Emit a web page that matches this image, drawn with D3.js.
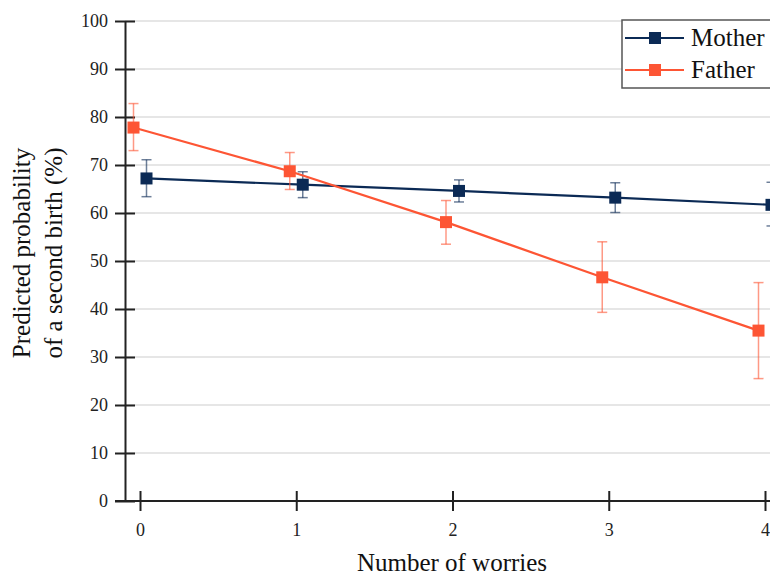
<!DOCTYPE html>
<html>
<head>
<meta charset="utf-8">
<script src="https://cdn.jsdelivr.net/npm/d3@7"></script>
<style>
  body { margin: 0; background: #fff; }
  svg { display: block; font-family: "Liberation Serif", "Times New Roman", serif; }
  .tick text { font-family: "Liberation Serif", serif; font-size: 18px; fill: #222; }
</style>
</head>
<body>
<div id="chart"></div>
<script>
// data
var worries = [0, 1, 2, 3, 4]
var yTicks = [0, 10, 20, 30, 40, 50, 60, 70, 80, 90, 100]

var motherMean = [67.2, 65.9, 64.6, 63.2, 61.7]
var motherLow = [63.4, 63.2, 62.3, 60.1, 57.3]
var motherHigh = [71.1, 68.6, 66.9, 66.3, 66.4]

var fatherMean = [77.8, 68.7, 58.1, 46.6, 35.5]
var fatherLow = [73.0, 64.9, 53.5, 39.3, 25.5]
var fatherHigh = [82.8, 72.6, 62.6, 54.0, 45.5]

var width = 770
var height = 576
var mother_col = "#0b2a55"
var father_col = "#fd5534"
var marker = 12
var dodge = 6.5  // horizontal offset so the two series don't overlap

var x = d3.scaleLinear().domain([0, 4]).range([140, 765])
var y = d3.scaleLinear().domain([0, 100]).range([501, 21])

var svg = d3.select("#chart").append("svg")
    .attr("width", width)
    .attr("height", height)

// gridlines
svg.append("g").selectAll("line")
    .data(yTicks.filter(function(d){ return d > 0 }))
    .enter().append("line")
    .attr("x1", 125).attr("x2", width)
    .attr("y1", function(d){ return y(d) }).attr("y2", function(d){ return y(d) })
    .attr("stroke", "#dedede")
    .attr("stroke-width", 1.5)

// y axis, ticks cross the line
var yAxis = svg.append("g")
    .attr("transform", "translate(125,0)")
    .call(d3.axisLeft(y).tickValues(yTicks).tickSize(10).tickSizeOuter(0).tickPadding(7))
yAxis.attr("font-family", null).attr("font-size", null)
yAxis.select(".domain").attr("stroke", "#222").attr("stroke-width", 2)
yAxis.selectAll(".tick line").attr("x1", 10).attr("stroke", "#222").attr("stroke-width", 2)

// x axis
var xAxis = svg.append("g")
    .attr("transform", "translate(0," + y(0) + ")")
    .call(d3.axisBottom(x).tickValues(worries).tickFormat(d3.format("d")).tickSize(10).tickPadding(12))
xAxis.attr("font-family", null).attr("font-size", null)
xAxis.select(".domain").remove()
xAxis.append("line")
    .attr("x1", 115).attr("x2", width)
    .attr("stroke", "#222").attr("stroke-width", 2)
xAxis.selectAll(".tick line").attr("y1", -10).attr("stroke", "#222").attr("stroke-width", 2)

// axis titles
svg.append("text")
    .attr("x", 452).attr("y", 571)
    .attr("text-anchor", "middle")
    .attr("font-size", 25).attr("fill", "#111")
    .text("Number of worries")

var ytitle = svg.append("text")
    .attr("transform", "translate(30,253) rotate(-90)")
    .attr("text-anchor", "middle")
    .attr("font-size", 25).attr("fill", "#111")
ytitle.append("tspan").attr("x", 0).attr("dy", 0).text("Predicted probability")
ytitle.append("tspan").attr("x", 0).attr("dy", 32).text("of a second birth (%)")

function draw_series(mean, low, high, color, offset){
    var g = svg.append("g")
    var xs = function(i){ return x(worries[i]) + offset }

    g.append("path")
        .datum(mean)
        .attr("fill", "none")
        .attr("stroke", color)
        .attr("stroke-width", 2.2)
        .attr("d", d3.line()
            .x(function(d, i){ return xs(i) })
            .y(function(d){ return y(d) }))

    var err = g.selectAll(".err").data(mean).enter().append("g")
        .attr("stroke", color)
        .attr("stroke-opacity", 0.6)
        .attr("stroke-width", 1.5)
    err.append("line")
        .attr("x1", function(d, i){ return xs(i) }).attr("x2", function(d, i){ return xs(i) })
        .attr("y1", function(d, i){ return y(low[i]) }).attr("y2", function(d, i){ return y(high[i]) })
    err.append("line")
        .attr("x1", function(d, i){ return xs(i) - 5 }).attr("x2", function(d, i){ return xs(i) + 5 })
        .attr("y1", function(d, i){ return y(low[i]) }).attr("y2", function(d, i){ return y(low[i]) })
    err.append("line")
        .attr("x1", function(d, i){ return xs(i) - 5 }).attr("x2", function(d, i){ return xs(i) + 5 })
        .attr("y1", function(d, i){ return y(high[i]) }).attr("y2", function(d, i){ return y(high[i]) })

    g.selectAll("rect").data(mean).enter().append("rect")
        .attr("x", function(d, i){ return xs(i) - marker / 2 })
        .attr("y", function(d){ return y(d) - marker / 2 })
        .attr("width", marker).attr("height", marker)
        .attr("fill", color)
}

draw_series(motherMean, motherLow, motherHigh, mother_col, dodge)
draw_series(fatherMean, fatherLow, fatherHigh, father_col, -dodge)

// legend
var legend = svg.append("g")
legend.append("rect")
    .attr("x", 622).attr("y", 20)
    .attr("width", 170).attr("height", 68)
    .attr("fill", "#fff")
    .attr("stroke", "#555").attr("stroke-width", 1.5)

var legend_items = [["Mother", mother_col], ["Father", father_col]]
legend_items.forEach(function(item, i){
    var ly = 38 + i * 32
    legend.append("line")
        .attr("x1", 625).attr("x2", 684)
        .attr("y1", ly).attr("y2", ly)
        .attr("stroke", item[1]).attr("stroke-width", 2)
    legend.append("rect")
        .attr("x", 655 - marker / 2).attr("y", ly - marker / 2)
        .attr("width", marker).attr("height", marker)
        .attr("fill", item[1])
    legend.append("text")
        .attr("x", 691).attr("y", ly + 8)
        .attr("font-size", 25).attr("fill", "#111")
        .text(item[0])
})
</script>
</body>
</html>
